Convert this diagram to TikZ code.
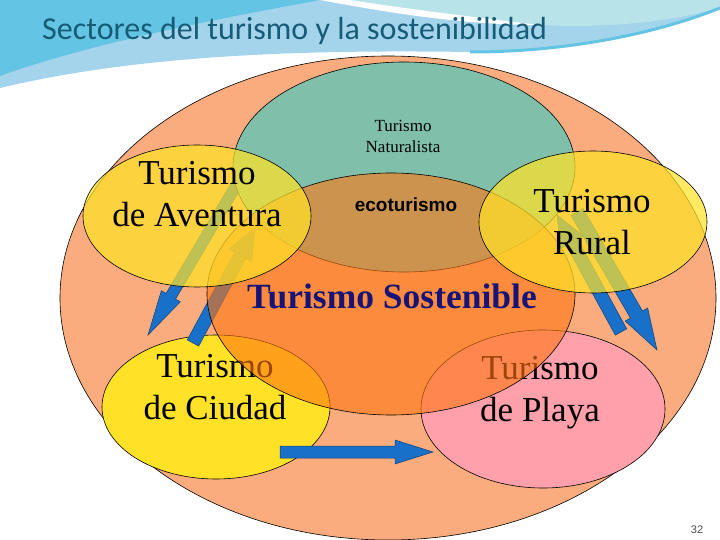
\documentclass[tikz,border=0pt]{standalone}
\usepackage{fontspec}
\setmainfont{Liberation Serif}
\newfontfamily\titlefont{Carlito}
\newfontfamily\arialfont{Liberation Sans}
\usetikzlibrary{calc,shapes.geometric}

\definecolor{skydark}{RGB}{100,196,228}
\definecolor{skylight}{RGB}{164,212,236}
\definecolor{skyteal}{RGB}{184,227,233}
\definecolor{titleblue}{RGB}{22,92,118}
\definecolor{salmon}{RGB}{251,172,126}
\definecolor{teal}{RGB}{128,191,170}
\definecolor{sustorange}{RGB}{255,118,18}
\definecolor{sunyellow}{RGB}{255,226,40}
\definecolor{beachpink}{RGB}{255,160,170}
\definecolor{arrowblue}{RGB}{24,112,200}
\definecolor{navy}{RGB}{22,20,120}

\tikzset{
  sector/.style={ellipse, draw=black, line width=0.6bp, inner sep=0pt},
  bigtext/.style={font=\fontsize{35bp}{42bp}\selectfont, align=center, inner sep=0pt},
  blockarrow/.style={draw=arrowblue!60!black, line width=0.5bp, fill=arrowblue, line join=miter}
}

% block arrow: tail, tip, half shaft, half head, head length
\newcommand{\blockarrow}[5]{%
  \path[blockarrow] ($(#1)!#3!90:(#2)$) -- ($(#2)!#5!(#1)!#3!90:(#2)$)
    -- ($(#2)!#5!(#1)!#4!90:(#2)$) -- (#2) -- ($(#2)!#5!(#1)!#4!-90:(#2)$)
    -- ($(#2)!#5!(#1)!#3!-90:(#2)$) -- ($(#1)!#3!-90:(#2)$) -- cycle;}

\begin{document}
\begin{tikzpicture}[x=1bp, y=-1bp]
        \useasboundingbox[fill=white] (0,0) rectangle (720,540);
        % background swoosh
        \path[fill=skylight] (0,0) -- (720,0) -- (720,8) .. controls (650,36) and (560,52) .. (470,52) .. controls (330,50) and (150,52) .. (0,88) -- cycle;
        \path[fill=skydark] (0,0) -- (320,0) .. controls (240,15) and (100,40) .. (0,76) -- cycle;
        \path[fill=skyteal] (350,0) -- (720,0) -- (720,8) .. controls (660,24) and (600,28) .. (540,25) .. controls (470,18) and (400,8) .. (350,0) -- cycle;
        \path[fill=white] (320,0) .. controls (400,15) and (470,25) .. (540,25) .. controls (480,18) and (400,8) .. (350,0) -- cycle;
        \path[draw=skydark, line width=3bp] (470,52) .. controls (560,52) and (650,36) .. (720,8);
        \node[anchor=base west, inner sep=0pt, font=\titlefont\fontsize{32bp}{38bp}\selectfont, text=titleblue] (title) at (42,40) {Sectores del turismo y la sostenibilidad};
        % outer ellipse
        \node[sector, fill=salmon, minimum width=656bp, minimum height=484bp] (outer) at (388,298) {};
        % city and beach
        \node[sector, fill=sunyellow, minimum width=228bp, minimum height=144bp] (city) at (216,407) {};
        \node[bigtext] (citytext) at (215,387) {Turismo\\de Ciudad};
        \node[sector, fill=beachpink, minimum width=244bp, minimum height=158bp] (beach) at (543,409) {};
        \node[bigtext] (beachtext) at (540,393) {Turismo\\de Playa};
        % arrows
        \coordinate (adv1) at (237,184);
        \coordinate (cit1) at (148,335);
        \coordinate (cit2) at (193,343);
        \coordinate (adv2) at (255,228);
        \coordinate (bea3) at (621,332);
        \coordinate (rur3) at (557,215);
        \coordinate (rur4) at (577,212);
        \coordinate (bea4) at (657,350);
        \coordinate (cit5) at (280,452);
        \coordinate (bea5) at (433,452);
        \blockarrow{adv1}{cit1}{5.5bp}{11bp}{45bp}
        \blockarrow{cit2}{adv2}{6.5bp}{13bp}{31bp}
        \blockarrow{bea3}{rur3}{6.5bp}{13bp}{31bp}
        \blockarrow{rur4}{bea4}{7bp}{13bp}{41bp}
        \blockarrow{cit5}{bea5}{6bp}{12bp}{38bp}
        % nature and sustainable
        \node[sector, fill=teal, minimum width=342bp, minimum height=210bp] (nature) at (404,167) {};
        \node[font=\fontsize{17bp}{21bp}\selectfont, align=center, inner sep=0pt] (naturetext) at (403,136) {Turismo\\Naturalista};
        \node[sector, fill=sustorange, fill opacity=0.6, minimum width=368bp, minimum height=242bp] (sust) at (391,294) {};
        \node[font=\bfseries\fontsize{35.5bp}{42bp}\selectfont, text=navy, inner sep=0pt] (susttext) at (392,296) {Turismo Sostenible};
        \node[font=\arialfont\bfseries\fontsize{19bp}{22bp}\selectfont, inner sep=0pt] (eco) at (406,205) {ecoturismo};
        % adventure and rural
        \node[sector, fill=sunyellow, fill opacity=0.72, minimum width=228bp, minimum height=142bp] (adventure) at (197,216) {};
        \node[bigtext] (adventuretext) at (197,194) {Turismo\\de Aventura};
        \node[sector, fill=sunyellow, fill opacity=0.72, minimum width=228bp, minimum height=142bp] (rural) at (593,222) {};
        \node[bigtext] (ruraltext) at (592,222) {Turismo\\Rural};
        % slide number
        \node[font=\arialfont\fontsize{11bp}{13bp}\selectfont, text=black!70, inner sep=0pt] (num) at (697,530) {32};
    \end{tikzpicture}
\end{document}
